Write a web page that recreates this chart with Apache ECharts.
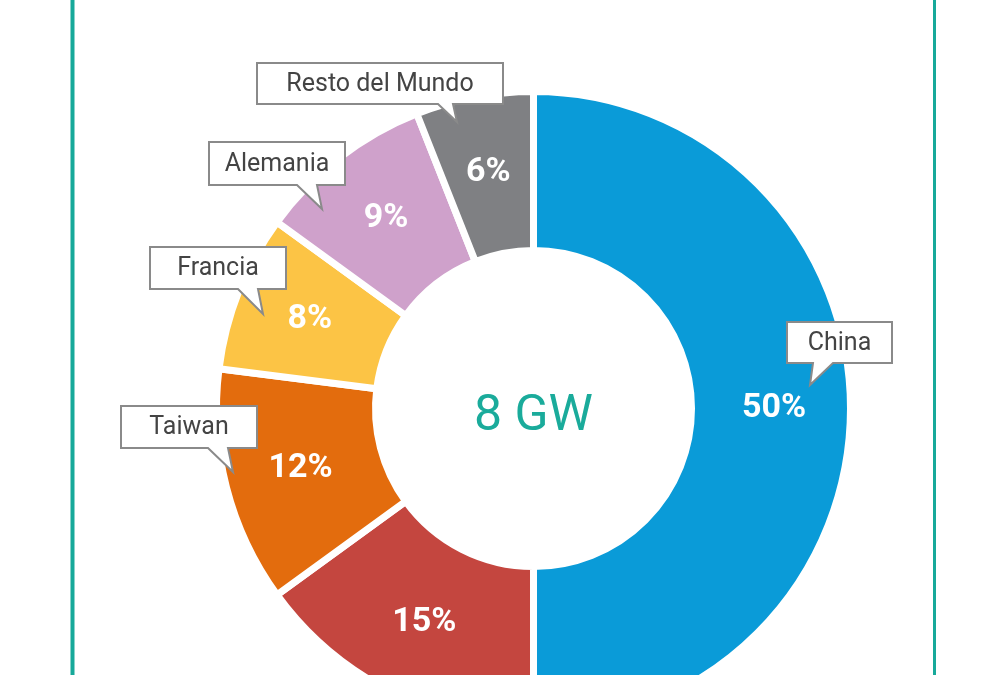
<!DOCTYPE html>
<html>
<head>
<meta charset="utf-8">
<style>
  html, body { margin: 0; padding: 0; background: #fff; }
  #chart { width: 1000px; height: 675px; }
</style>
<script src="https://cdn.jsdelivr.net/npm/echarts@6/dist/echarts.min.js"></script>
</head>
<body>
<div id="chart"></div>
<script>
// datos del grafico
var paises = ['China', 'Otros', 'Taiwan', 'Francia', 'Alemania', 'Resto del Mundo'];
var cuotas = [50, 15, 12, 8, 9, 6];
var colores = ['#0a9bd8', '#c4463f', '#e36c0d', '#fcc445', '#cfa1cb', '#7f8083'];
var total = '8 GW';

// cajas de las etiquetas (x, y, ancho, alto) y cola (baseIzq, baseDer, puntaX, puntaY)
var globos = {
  'China':           { box: [787, 322, 105, 41], cola: [813, 833, 810, 385] },
  'Taiwan':          { box: [121, 406, 136, 42], cola: [208, 228, 233, 472] },
  'Francia':         { box: [150, 247, 136, 42], cola: [238, 258, 263, 314] },
  'Alemania':        { box: [209, 142, 136, 43], cola: [297, 317, 322, 209] },
  'Resto del Mundo': { box: [257, 63, 246, 41], cola: [438, 453, 457, 122] }
};

var centro = [533.5, 408.5];

var chart = echarts.init(document.getElementById('chart'));

var graficos = [
  // marco verde
  { type: 'line', shape: { x1: 72.5, y1: 0, x2: 72.5, y2: 675 }, style: { stroke: '#17a99a', lineWidth: 4 }, silent: true },
  { type: 'line', shape: { x1: 934.5, y1: 0, x2: 934.5, y2: 675 }, style: { stroke: '#17a99a', lineWidth: 3 }, silent: true },
  // texto central
  {
    type: 'text', x: centro[0], y: centro[1] + 9, silent: true,
    style: { text: total, fill: '#1aab9b', font: '50px Roboto', align: 'center', verticalAlign: 'middle' }
  }
];

paises.forEach(function (p) {
  var g = globos[p];
  if (!g) return;
  var x = g.box[0], y = g.box[1], w = g.box[2], h = g.box[3];
  var b = y + h;
  graficos.push({
    type: 'polygon', silent: true, z: 10,
    shape: {
      points: [[x, y], [x + w, y], [x + w, b], [g.cola[1], b], [g.cola[2], g.cola[3]], [g.cola[0], b], [x, b]]
    },
    style: { fill: '#fff', stroke: '#8a8a8a', lineWidth: 2 }
  });
  graficos.push({
    type: 'text', silent: true, z: 11,
    x: x + w / 2, y: y + h / 2 + 1,
    style: { text: p, fill: '#444', font: '25px Roboto', align: 'center', verticalAlign: 'middle' }
  });
});

var option = {
  backgroundColor: '#fff',
  animation: false,
  graphic: graficos,
  series: [
    {
      type: 'pie',
      center: centro,
      radius: [158, 317],
      startAngle: 90,
      clockwise: true,
      silent: true,
      itemStyle: { borderColor: '#fff', borderWidth: 7 },
      label: {
        show: true,
        position: 'inside',
        formatter: '{c}%',
        color: '#fff',
        fontSize: 34,
        fontWeight: 'bold',
        fontFamily: 'Roboto'
      },
      labelLine: { show: false },
      emphasis: { disabled: true },
      data: paises.map(function (p, i) {
        return { name: p, value: cuotas[i], itemStyle: { color: colores[i] } };
      })
    }
  ]
};

chart.setOption(option);
window.addEventListener('resize', function () {
  chart.resize();
});
</script>
</body>
</html>
